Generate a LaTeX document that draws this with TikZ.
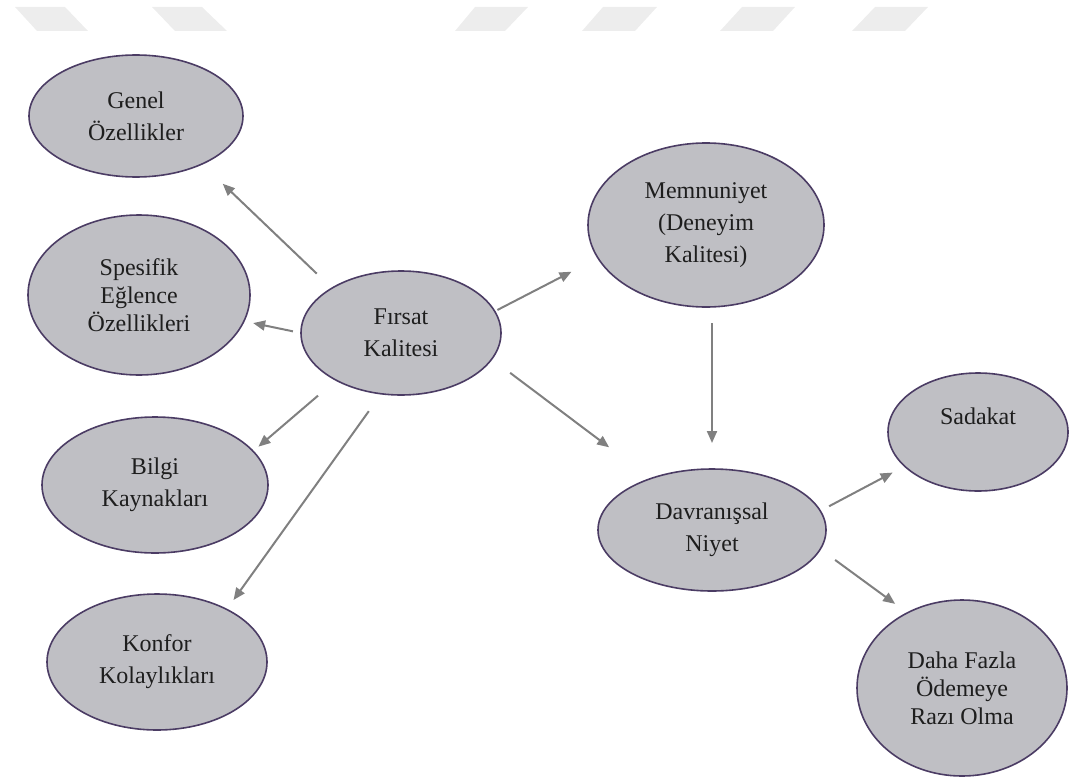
\documentclass[tikz,border=0pt]{standalone}
\usepackage{fontspec}
\setmainfont{Liberation Serif}
\usepackage{tikz}
\usetikzlibrary{arrows.meta, shapes.geometric}
\usepackage{xcolor}
\definecolor{bubblefill}{HTML}{BFBFC4}
\definecolor{bubbleedge}{HTML}{4B3C64}
\definecolor{arrowgray}{HTML}{808080}
\definecolor{inkdark}{HTML}{1E1E1E}
\definecolor{wmgray}{HTML}{EDEDED}

\begin{document}
\begin{tikzpicture}[
  x=0.5pt, y=-0.5pt,
  bubble/.style={ellipse, draw=bubbleedge, fill=bubblefill, line width=0.8pt,
    inner sep=0pt, outer sep=0pt, align=center, text=inkdark,
    font=\fontsize{12}{16}\selectfont},
  tri/.style={font=\fontsize{12}{14}\selectfont},
  arr/.style={-{Triangle[length=6pt, width=5pt]}, line width=1pt, arrowgray}
]
  \useasboundingbox (0, 0) rectangle (1069, 781);

  % Watermark strip along the top
  \fill[wmgray] (15, 7) -- (65, 7) -- (88, 31) -- (37, 31) -- cycle;
  \fill[wmgray] (152, 7) -- (202, 7) -- (227, 31) -- (175, 31) -- cycle;
  \fill[wmgray] (475, 7) -- (528, 7) -- (505, 31) -- (455, 31) -- cycle;
  \fill[wmgray] (603, 7) -- (657, 7) -- (635, 31) -- (582, 31) -- cycle;
  \fill[wmgray] (742, 7) -- (795, 7) -- (773, 31) -- (720, 31) -- cycle;
  \fill[wmgray] (875, 7) -- (928, 7) -- (905, 31) -- (852, 31) -- cycle;

  % Centre: opportunity quality
  \node[bubble, minimum width=100pt, minimum height=62pt] (firsat) at (401, 333)
    {Fırsat\\Kalitesi};

  % Left column
  \node[bubble, minimum width=107pt, minimum height=61pt] (genel) at (136, 116)
    {Genel\\Özellikler};
  \node[bubble, tri, minimum width=111pt, minimum height=80pt] (spesifik) at (139, 295)
    {Spesifik\\Eğlence\\Özellikleri};
  \node[bubble, minimum width=113pt, minimum height=68pt] (bilgi) at (155, 485)
    {Bilgi\\Kaynakları};
  \node[bubble, minimum width=110pt, minimum height=68pt] (konfor) at (157, 662)
    {Konfor\\Kolaylıkları};

  % Right side
  \node[bubble, minimum width=118pt, minimum height=82pt] (memnun) at (706, 225)
    {Memnuniyet\\(Deneyim\\Kalitesi)};
  \node[bubble, minimum width=114pt, minimum height=61pt] (davran) at (712, 530)
    {Davranışsal\\Niyet};
  \node[bubble, minimum width=90pt, minimum height=59pt] (sadakat) at (978, 432)
    {Sadakat\\\mbox{}};
  \node[bubble, tri, minimum width=105pt, minimum height=88pt] (daha) at (962, 688)
    {Daha Fazla\\Ödemeye\\Razı Olma};

  % Arrows out of the centre
  \draw[arr, shorten <=10.5pt, shorten >=14.3pt] (firsat.147.5) -- (genel.-36.4);
  \draw[arr, shorten <=4.1pt, shorten >=4.7pt] (firsat.180) -- (spesifik.-14);
  \draw[arr, shorten <=11.9pt, shorten >=3.5pt] (firsat.-144.9) -- (bilgi.19.4);
  \draw[arr, shorten <=10.7pt, shorten >=5.8pt] (firsat.-108.7) -- (konfor.37.2);
  \draw[arr, shorten <=1.5pt, shorten >=14.9pt] (firsat.13.6) -- (memnun.-163.6);
  \draw[arr, shorten <=11.5pt, shorten >=26pt] (firsat.-16) -- (davran.140.8);

  % Satisfaction to intention, intention to outcomes
  \draw[arr, shorten <=8pt, shorten >=13pt] (memnun.south -| davran.north) -- (davran.north);
  \draw[arr, shorten <=5pt, shorten >=6.8pt] (davran.10.2) -- (sadakat.-155.5);
  \draw[arr, shorten <=9.2pt, shorten >=7.6pt] (davran.-10.2) -- (daha.126);
\end{tikzpicture}
\end{document}
